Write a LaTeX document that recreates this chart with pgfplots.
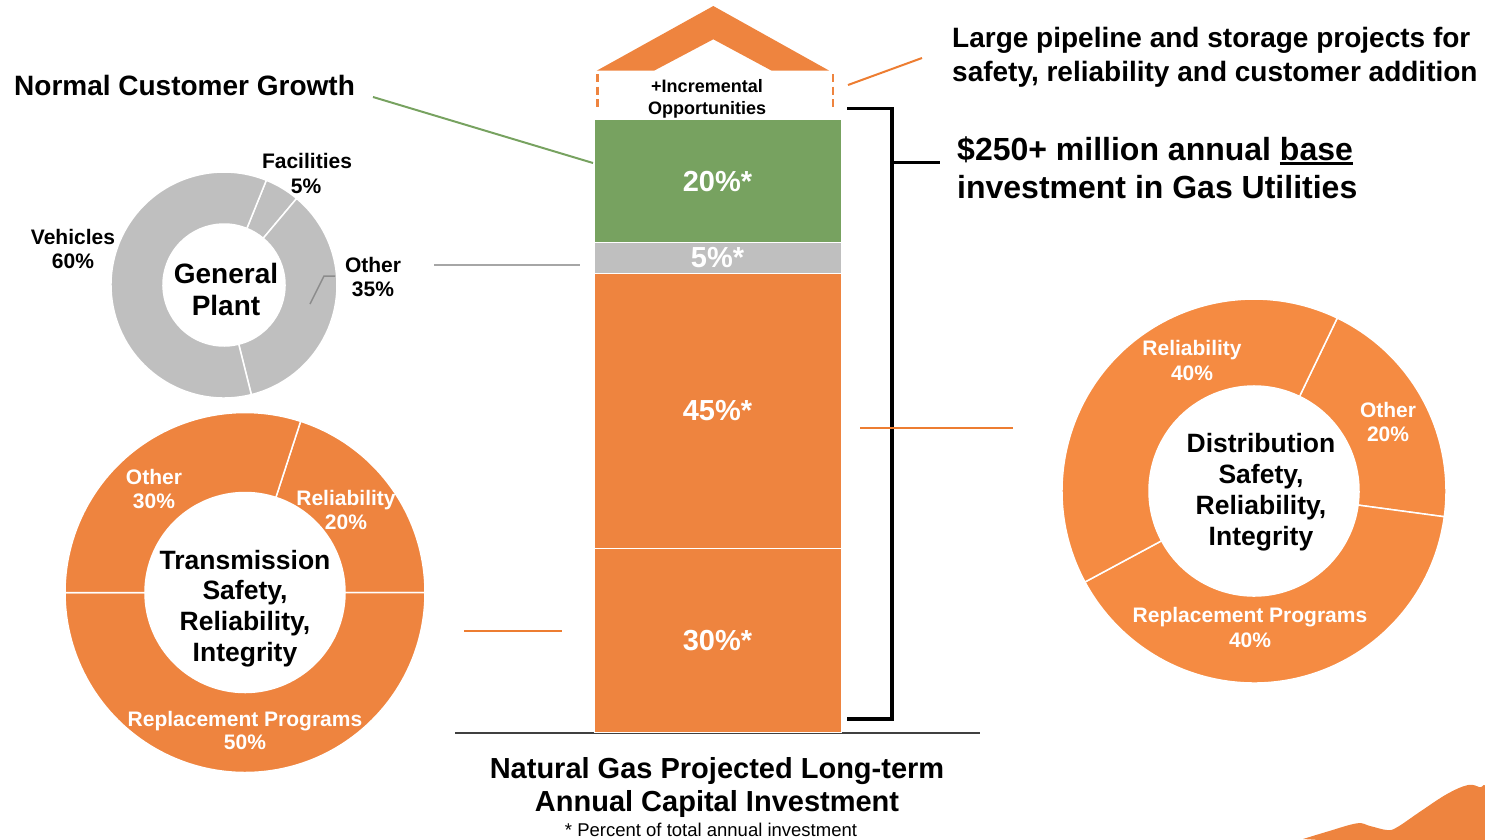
\documentclass[border=0pt]{standalone}
\usepackage{pgfplots}
\pgfplotsset{compat=1.18}
\usepackage{fontspec}
\setmainfont{Liberation Sans}
\definecolor{bOrange}{HTML}{EE843F}
\definecolor{rOrange}{HTML}{F58B42}
\definecolor{bGreen}{HTML}{77A260}
\definecolor{bGray}{HTML}{BFBFBF}
\definecolor{lOrange}{HTML}{ED7D31}
\definecolor{lGray}{HTML}{A6A6A6}
\definecolor{dGray}{HTML}{8C8C8C}
\newcommand\fs[1]{\fontsize{#1}{#1}\selectfont}
% donut slice: cx, cy, r_in, r_out, start angle, cumulative %, slice %, colour
\newcommand\slice[8]{%
  \filldraw[fill=#8, draw=white, line width=1.5pt]
   ([shift={({#5-3.6*(#6)}:#4pt)}]axis cs:#1,#2)
   arc[start angle={#5-3.6*(#6)}, end angle={#5-3.6*(#6+#7)}, radius=#4pt]
   -- ([shift={({#5-3.6*(#6+#7)}:#3pt)}]axis cs:#1,#2)
   arc[start angle={#5-3.6*(#6+#7)}, end angle={#5-3.6*(#6)}, radius=#3pt]
   -- cycle;}
% text at baseline: x, y, size, colour, text
\newcommand\lab[5]{\node[anchor=base, inner sep=0pt, text=#4, font=\bfseries\fs{#3}] at (axis cs:#1,#2) {#5};}
\newcommand\labl[5]{\node[anchor=base west, inner sep=0pt, text=#4, font=\bfseries\fs{#3}] at (axis cs:#1,#2) {#5};}
\newcommand\ul[1]{\setbox0\hbox{#1}\rlap{\rule[-4.5pt]{\wd0}{2.2pt}}\box0}
\begin{document}
\begin{tikzpicture}
\begin{axis}[name=main, at={(0pt,0pt)}, anchor=south west,
  width=1485pt, height=839pt, scale only axis, hide axis,
  xmin=0, xmax=1485, ymin=0, ymax=839, y dir=reverse, clip=true]
% mountain decoration bottom right
\addplot[fill=bOrange, draw=none, smooth, tension=0.6] coordinates {
 (1303,839) (1327,831.7) (1357,823.3) (1370,826) (1387,830) (1397,827.3)
 (1420,811.7) (1447,794) (1468,785) (1480,787.3) (1486,790) (1490,850)} -- cycle;
% General Plant donut
\slice{224}{285}{61}{113}{68}{0}{5}{bGray}
\slice{224}{285}{61}{113}{68}{5}{35}{bGray}
\slice{224}{285}{61}{113}{68}{40}{60}{bGray}
\draw[dGray, line width=1.5pt] (310,304) -- (324,276) -- (335,276);
% Transmission donut
\slice{245}{592.5}{100}{180}{72}{0}{20}{bOrange}
\slice{245}{592.5}{100}{180}{72}{20}{50}{bOrange}
\slice{245}{592.5}{100}{180}{72}{70}{30}{bOrange}
% Distribution donut
\slice{1254}{491}{105}{192}{64.3}{0}{20}{rOrange}
\slice{1254}{491}{105}{192}{64.3}{20}{40}{rOrange}
\slice{1254}{491}{105}{192}{64.3}{60}{40}{rOrange}
% connector lines
\draw[bGreen, line width=2pt] (373,97) -- (593,163);
\draw[lGray, line width=2pt] (434,265) -- (580,265);
\draw[lOrange, line width=2pt] (464,631) -- (562,631);
\draw[lOrange, line width=2pt] (848,85) -- (922,58);
% bracket
\draw[black, line width=3.5pt] (847,108.5) -- (892,108.5) -- (892,719) -- (847,719);
\draw[black, line width=3.5pt] (892,162.5) -- (940,162.5);
\draw[lOrange, line width=2pt] (860,427.5) -- (1013,427.5);
% roof
\fill[bOrange] (596.7,70.7) -- (713.3,6) -- (829.3,70.7) -- (771.7,70.7) -- (713.3,39.3) -- (654,70.7) -- cycle;
\draw[bOrange, line width=2.5pt, dash pattern=on 8pt off 4.5pt] (597.5,74) -- (597.5,110);
\draw[bOrange, line width=2.5pt, dash pattern=on 8pt off 4.5pt] (833,74) -- (833,110);
% baseline
\draw[black!75, line width=2pt] (455,732.5) -- (980,732.5);
% texts
\labl{14}{95}{28}{black}{Normal Customer Growth}
\labl{952}{47}{28}{black}{Large pipeline and storage projects for}
\labl{952}{81}{28}{black}{safety, reliability and customer addition}
\labl{957}{160}{32}{black}{\$250+ million annual \ul{base}}
\labl{957}{198}{32}{black}{investment in Gas Utilities}
\lab{717}{778.5}{29}{black}{Natural Gas Projected Long-term}
\lab{717}{811}{29}{black}{Annual Capital Investment}
\node[anchor=base, inner sep=0pt, font=\fs{18.5}] at (axis cs:711,836) {* Percent of total annual investment};
\lab{707}{92.5}{18}{black}{+Incremental}
\lab{707}{114}{18}{black}{Opportunities}
% General plant labels
\lab{307}{168.5}{21}{black}{Facilities}
\lab{306}{193.5}{21}{black}{5\%}
\lab{73}{244.5}{21}{black}{Vehicles}
\lab{73}{268.5}{21}{black}{60\%}
\lab{373}{272.5}{21}{black}{Other}
\lab{373}{296.5}{21}{black}{35\%}
\lab{226}{283}{28}{black}{General}
\lab{226}{315}{28}{black}{Plant}
% Transmission labels
\lab{154}{484.5}{21}{white}{Other}
\lab{154}{508.5}{21}{white}{30\%}
\lab{346}{505.5}{21}{white}{Reliability}
\lab{346}{529.5}{21}{white}{20\%}
\lab{245}{726.5}{21}{white}{Replacement Programs}
\lab{245}{749.5}{21}{white}{50\%}
\lab{245}{569.5}{26.5}{black}{Transmission}
\lab{245}{599.5}{26.5}{black}{Safety,}
\lab{245}{630.5}{26.5}{black}{Reliability,}
\lab{245}{661.5}{26.5}{black}{Integrity}
% Distribution labels
\lab{1192}{355.5}{21}{white}{Reliability}
\lab{1192}{380.5}{21}{white}{40\%}
\lab{1388}{417.5}{21}{white}{Other}
\lab{1388}{441.5}{21}{white}{20\%}
\lab{1250}{622.5}{21}{white}{Replacement Programs}
\lab{1250}{647.5}{21}{white}{40\%}
\lab{1261}{452.5}{26.5}{black}{Distribution}
\lab{1261}{483.5}{26.5}{black}{Safety,}
\lab{1261}{514.5}{26.5}{black}{Reliability,}
\lab{1261}{545.5}{26.5}{black}{Integrity}
\end{axis}
% stacked bar
\begin{axis}[at={(717.5pt,106.5pt)}, anchor=south, width=300pt, height=612.5pt,
  scale only axis, hide axis, xmin=-0.5, xmax=0.5, ymin=0, ymax=100,
  ybar stacked, bar width=247pt, clip=false,
  after end axis/.code={
    \node[text=white, font=\bfseries\fs{29}] at (axis cs:0,15) {30\%*};
    \node[text=white, font=\bfseries\fs{29}] at (axis cs:0,52.5) {45\%*};
    \node[text=white, font=\bfseries\fs{29}] at (axis cs:0,77.5) {5\%*};
    \node[text=white, font=\bfseries\fs{29}] at (axis cs:0,90) {20\%*};
  }]
\addplot[fill=bOrange, draw=white, line width=1pt] coordinates {(0,30)};
\addplot[fill=bOrange, draw=white, line width=1pt] coordinates {(0,45)};
\addplot[fill=bGray, draw=white, line width=1pt] coordinates {(0,5)};
\addplot[fill=bGreen, draw=white, line width=1pt] coordinates {(0,20)};
\end{axis}
\pgfresetboundingbox
\useasboundingbox (0pt,0pt) rectangle (1485pt,839pt);
\end{tikzpicture}
\end{document}
